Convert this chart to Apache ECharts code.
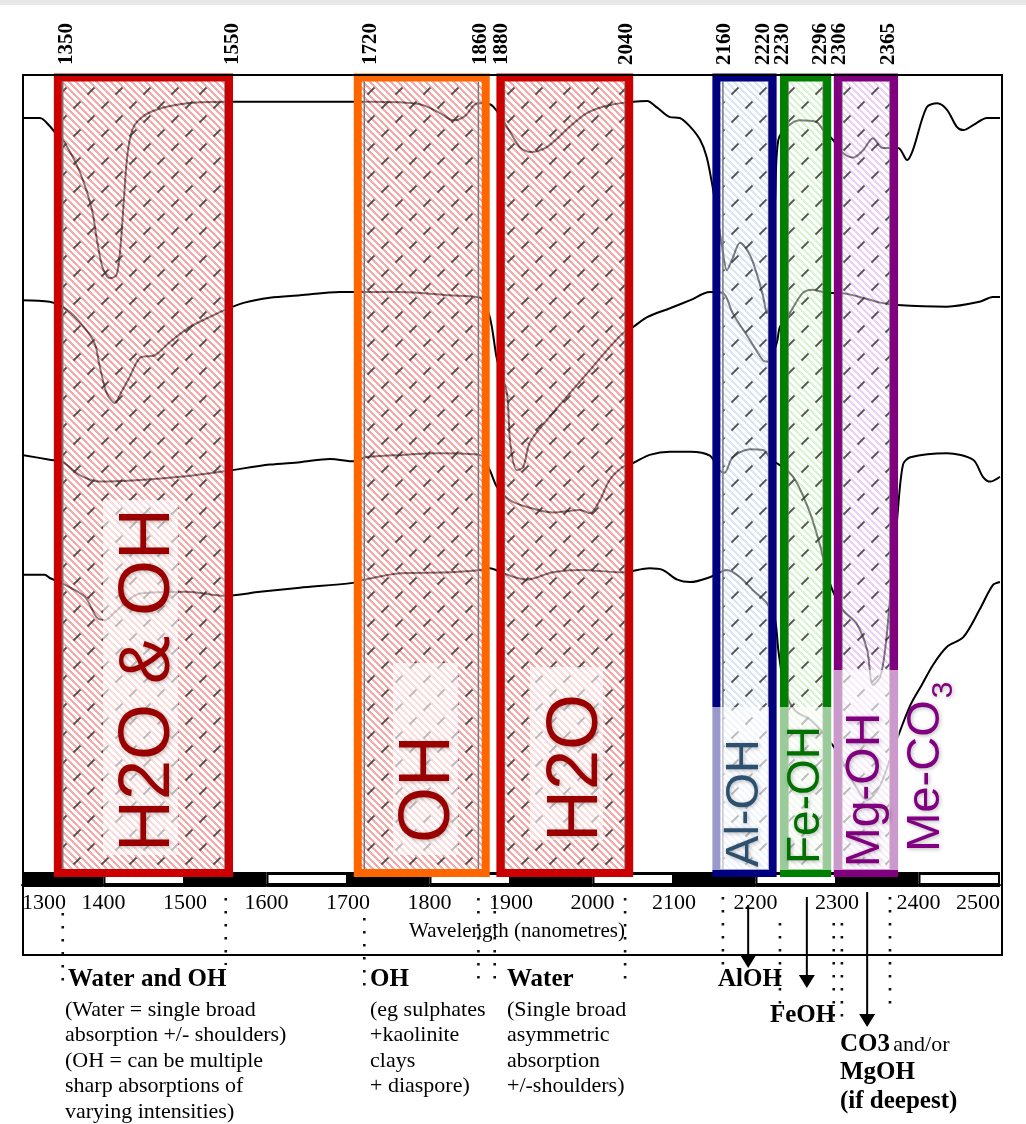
<!DOCTYPE html>
<html>
<head>
<meta charset="utf-8">
<title>SWIR absorption features</title>
<script src="https://cdn.jsdelivr.net/npm/echarts@6/dist/echarts.min.js"></script>
<style>
html,body{margin:0;padding:0;background:#fff;}
#main{width:1026px;height:1124px;}
</style>
</head>
<body>
<div id="main"></div>
<script>
// spectra, wavelength (nm) and relative reflectance (offset, arbitrary units)
var spec1Wl=[1300,1322,1334,1343,1352,1371,1386,1392,1399,1408,1416,1421,1425,1430,1438,1457,1494,1549,1641,1727,1788,1813,1829,1843,1859,1874,1886,1895,1911,1923,1944,1972,1993,2021,2050,2067,2079,2095,2107,2120,2132,2140,2147,2153,2159,2165,2172,2181,2193,2202,2209,2214,2219,2224,2228,2239,2254,2275,2283,2295,2307,2320,2332,2344,2356,2375,2386,2393,2410,2423,2435,2447,2455,2467,2484,2500];
var spec1Val=[94.7,94.7,93.7,92.6,91.7,88.0,83.3,79.6,76.2,74.9,75.3,79.0,84.6,90.7,93.8,95.4,96.4,96.7,96.7,96.7,96.4,95.3,94.4,94.9,96.5,96.4,95.1,93.6,91.1,90.5,91.1,93.6,95.3,96.3,96.7,96.8,96.0,94.8,94.7,93.6,92.0,89.9,86.4,82.7,78.8,75.9,77.4,79.3,77.8,75.3,72.8,70.6,73.5,84.6,92.0,93.6,94.4,94.2,93.2,92.0,90.4,89.8,90.7,92.2,91.0,91.0,89.5,90.7,96.0,96.5,95.7,93.6,93.2,93.8,94.7,94.7];

var spec2Wl=[1300,1334,1350,1371,1389,1395,1404,1414,1422,1432,1445,1463,1481,1506,1530,1549,1573,1604,1641,1690,1764,1825,1862,1874,1883,1895,1899,1907,1915,1923,1944,1972,1997,2021,2037,2050,2067,2095,2120,2144,2160,2172,2193,2209,2215,2226,2230,2242,2258,2270,2288,2304,2328,2353,2374,2435,2475,2491,2500];
var spec2Val=[72.2,72.0,71.4,69.5,66.9,64.2,60.7,59.5,60.9,62.7,65.1,65.4,67.0,68.9,70.1,71.0,71.9,72.5,72.8,73.2,73.2,72.8,72.5,70.1,64.8,60.7,54.6,51.2,51.6,54.6,57.4,60.7,63.6,66.4,68.1,68.9,70.1,71.2,72.2,73.2,73.1,70.6,67.3,64.8,64.6,66.9,68.9,70.6,73.1,73.5,73.1,73.1,72.6,71.9,71.6,71.4,72.0,72.6,72.6];

var spec3Wl=[1300,1334,1350,1371,1395,1445,1494,1549,1604,1641,1678,1708,1721,1764,1813,1862,1874,1883,1899,1919,1951,1985,1997,2009,2021,2037,2050,2070,2095,2120,2144,2156,2162,2172,2193,2209,2220,2239,2251,2267,2279,2291,2307,2324,2337,2344,2353,2359,2365,2374,2381,2390,2435,2467,2479,2488,2500];
var spec3Val=[53.1,52.5,52.2,50.6,49.8,50.0,50.4,51.1,51.9,52.2,52.6,52.3,52.8,53.1,53.3,53.1,51.2,49.1,47.5,46.7,46.0,46.3,45.9,47.5,50.0,51.6,52.1,53.1,53.5,53.5,53.0,51.2,50.9,52.8,53.8,53.7,52.5,51.2,49.6,45.9,42.0,37.3,34.0,32.3,29.0,24.7,25.7,29.0,35.2,45.4,51.9,52.8,53.3,52.5,50.4,49.8,50.4];

var spec4Wl=[1300,1328,1334,1350,1377,1392,1402,1414,1445,1502,1549,1592,1641,1706,1721,1764,1825,1862,1874,1890,1919,1951,1985,2037,2070,2086,2104,2120,2144,2165,2181,2197,2214,2224,2228,2236,2248,2267,2285,2303,2322,2337,2353,2371,2390,2404,2418,2435,2455,2475,2491,2500];
var spec4Val=[38.3,38.3,37.9,37.2,35.6,33.0,32.7,33.7,36.0,36.2,35.7,36.2,36.7,37.3,37.7,38.5,38.6,38.9,39.1,38.5,37.7,38.6,38.9,38.6,39.1,38.9,37.7,37.4,38.0,38.9,38.0,36.4,34.8,32.7,29.0,24.1,21.6,20.4,18.5,16.0,12.3,10.5,12.3,17.3,22.2,24.7,27.2,29.4,30.6,34.0,37.0,37.4];

// absorption bands (nm) and the highlight boxes drawn over them
var bandFrom=[1350,1720,1880,2160,2230,2306];
var bandTo=[1550,1860,2040,2220,2296,2365];
var boxFrom=[1344,1712,1887,2152,2235,2301];
var boxTo=[1554,1869,2045,2221,2288,2370];

// wavelengths written along the top edge
var topMarks=[1350,1550,1720,1860,1880,2040,2160,2220,2230,2296,2306,2365];
// dotted guide lines below the axis
var guideMarks=[1350,1550,1720,1860,1880,2040,2160,2230,2296,2306,2365];
// feature arrows (AlOH, FeOH, CO3/MgOH)
var arrowMarks=[2191,2263,2337];
// alternating scale bar edges
var barEdges=[1300,1400,1500,1600,1700,1800,1900,2000,2100,2200,2300,2400,2500];

// ---- styling ----
var boxColors=['#cc0000','#ff6600','#cc0000','#000080','#008000','#800080'];
var stripeRGBA=[[240,100,100,0.55],[240,100,100,0.55],[240,100,100,0.55],[190,212,240,0.55],[185,235,170,0.55],[225,170,240,0.55]];
var topNudge=[4,7,6,2,7,1,2,-8,3,-13,-2,-1];
var guideSpan=[[28,103],[13,80],[33,103],[13,103],[13,103],[13,103],[12,85],[38,122],[38,142],[38,142],[12,128]];
var arrowSpan=[[20,83],[12,103],[7,142]];

function pairs(a,b){
	var out=[];
	for(var i=0;i<a.length;i++){
		out.push([a[i],b[i]]);
	}
	return out;
}

// stripe pattern for the boxes
function makeStripes(c){
	var P=7;
	var cv=document.createElement('canvas');
	cv.width=P;cv.height=P;
	var ctx=cv.getContext('2d');
	var img=ctx.createImageData(P,P);
	for(var y=0;y<P;y++){
		for(var x=0;x<P;x++){
			var k=((x-y)%P+P)%P;
			var idx=(y*P+x)*4;
			if(k<3){
				img.data[idx]=c[0];img.data[idx+1]=c[1];img.data[idx+2]=c[2];img.data[idx+3]=Math.round(c[3]*255);
			}else{
				img.data[idx]=255;img.data[idx+1]=255;img.data[idx+2]=255;img.data[idx+3]=128;
			}
		}
	}
	ctx.putImageData(img,0,0);
	return {image:cv,repeat:'repeat'};
}

// the scanned "/" hatching
function makeDashes(){
	var S=28;
	var cv=document.createElement('canvas');
	cv.width=S;cv.height=S;
	var ctx=cv.getContext('2d');
	ctx.strokeStyle='rgba(45,45,45,1)';
	ctx.lineWidth=1.8;
	[[7,7],[21,21]].forEach(function(p){
		ctx.beginPath();
		ctx.moveTo(p[0]-3.5,p[1]+3.5);
		ctx.lineTo(p[0]+3.5,p[1]-3.5);
		ctx.stroke();
	});
	return {image:cv,repeat:'repeat'};
}

var stripePatterns=stripeRGBA.map(makeStripes);
var dashPattern=makeDashes();

function renderBox(params,api){
	var i=params.dataIndex;
	var cs=params.coordSys;
	var top=cs.y+2.5, bottom=cs.y+cs.height-12;
	var bx0=api.coord([api.value(0),0])[0];
	var bx1=api.coord([api.value(1),0])[0];
	var hx0=api.coord([api.value(2),0])[0];
	var hx1=api.coord([api.value(3),0])[0];
	var lo=Math.max(hx0,bx0+4), hi=Math.min(hx1,bx1-4);
	return {type:'group',children:[
		{type:'rect',shape:{x:bx0,y:top,width:bx1-bx0,height:bottom-top},style:{fill:stripePatterns[i]}},
		{type:'rect',shape:{x:lo,y:top+4,width:hi-lo,height:bottom-top-8},style:{fill:dashPattern,opacity:0.8}},
		{type:'line',shape:{x1:lo,y1:top+4,x2:lo,y2:bottom-4},style:{stroke:'#777',lineWidth:1.5}},
		{type:'line',shape:{x1:hi,y1:top+4,x2:hi,y2:bottom-4},style:{stroke:'#777',lineWidth:1.5}},
		{type:'rect',shape:{x:bx0,y:top,width:bx1-bx0,height:bottom-top},style:{fill:'none',stroke:boxColors[i],lineWidth:8}}
	]};
}

function renderBar(params,api){
	var cs=params.coordSys;
	var x0=api.coord([api.value(0),0])[0];
	var x1=api.coord([api.value(1),0])[0];
	var yb=cs.y+cs.height;
	var kids=[{type:'rect',shape:{x:x0,y:yb-13,width:x1-x0,height:15},style:{fill:'#000'}}];
	if(params.dataIndex%2===1){
		kids.push({type:'rect',shape:{x:x0+2,y:yb-10,width:x1-x0-4,height:8},style:{fill:'#fff'}});
	}
	return {type:'group',children:kids};
}

function renderTop(params,api){
	var cs=params.coordSys;
	var v=api.value(0);
	var x=api.coord([v,0])[0]+topNudge[params.dataIndex];
	return {type:'text',x:x,y:cs.y-10,rotation:Math.PI/2,
		style:{text:String(v),font:'bold 21px "Liberation Serif"',fill:'#000',align:'left',verticalAlign:'middle'}};
}

function renderGuide(params,api){
	var cs=params.coordSys;
	var x=api.coord([api.value(0),0])[0];
	var yb=cs.y+cs.height;
	var sp=guideSpan[params.dataIndex];
	return {type:'line',shape:{x1:x,y1:yb+sp[0],x2:x,y2:yb+sp[1]},
		style:{stroke:'#111',lineWidth:2.6,lineDash:[2.6,10.4]}};
}

function renderArrow(params,api){
	var cs=params.coordSys;
	var x=api.coord([api.value(0),0])[0];
	var yb=cs.y+cs.height;
	var sp=arrowSpan[params.dataIndex];
	var y0=yb+sp[0], y1=yb+sp[1];
	return {type:'group',children:[
		{type:'line',shape:{x1:x,y1:y0,x2:x,y2:y1-10},style:{stroke:'#000',lineWidth:2}},
		{type:'polygon',shape:{points:[[x-8,y1-13],[x+8,y1-13],[x,y1]]},style:{fill:'#000'}}
	]};
}

var lineStyleBase={color:'#000',width:2};
function specSeries(name,wl,val){
	return {name:name,type:'line',data:pairs(wl,val),showSymbol:false,symbol:'none',smooth:0.3,
		lineStyle:lineStyleBase,z:2,silent:true};
}

var boxData=[];
for(var i=0;i<bandFrom.length;i++){
	boxData.push([boxFrom[i],boxTo[i],bandFrom[i],bandTo[i],50]);
}
var barData=[];
for(var j=0;j<barEdges.length-1;j++){
	barData.push([barEdges[j],barEdges[j+1],0]);
}

var serif='"Liberation Serif"';
var sans='"Liberation Sans"';
var shadow={textShadowColor:'rgba(0,0,0,0.3)',textShadowBlur:4,textShadowOffsetX:1,textShadowOffsetY:1};

function bigLabel(txt,x,y,size,color){
	return {type:'text',x:x,y:y,rotation:Math.PI/2,z:11,
		style:Object.assign({text:txt,font:size+'px '+sans,fill:color,align:'center',verticalAlign:'middle'},shadow)};
}
function labelBg(x,y,w,h){
	return {type:'rect',z:10,shape:{x:x,y:y,width:w,height:h},style:{fill:'rgba(255,255,255,0.6)'}};
}
function note(txt,x,y,bold){
	return {type:'text',x:x,y:y,z:11,style:{text:txt,font:(bold?'bold 25px ':'22px ')+serif,fill:'#000',
		align:'left',verticalAlign:bold?'middle':'top',lineHeight:25.5}};
}

var option={
	animation:false,
	backgroundColor:'#fff',
	grid:{left:22,right:26,top:75,bottom:239},
	xAxis:{
		type:'value',min:1300,max:2500,interval:100,
		axisLine:{show:true,lineStyle:{color:'#000',width:2}},
		axisTick:{show:false},
		splitLine:{show:false},
		axisLabel:{color:'#000',fontFamily:'Liberation Serif',fontSize:22,margin:7,alignMinLabel:'left',alignMaxLabel:'right',
			formatter:function(v){return String(v);}},
		name:'Wavelength (nanometres)',nameLocation:'middle',nameGap:36,
		nameTextStyle:{color:'#000',fontFamily:'Liberation Serif',fontSize:21,padding:[0,0,0,12]}
	},
	yAxis:{type:'value',min:0,max:100,show:false},
	series:[
		specSeries('s1',spec1Wl,spec1Val),
		specSeries('s2',spec2Wl,spec2Val),
		specSeries('s3',spec3Wl,spec3Val),
		specSeries('s4',spec4Wl,spec4Val),
		{type:'custom',renderItem:renderBar,data:barData,encode:{x:[0,1],y:2},clip:false,z:3,silent:true},
		{type:'custom',renderItem:renderBox,data:boxData,encode:{x:[0,1,2,3],y:4},clip:false,z:4,silent:true},
		{type:'custom',renderItem:renderTop,data:topMarks.map(function(v){return [v,0];}),encode:{x:0,y:1},clip:false,z:4,silent:true},
		{type:'custom',renderItem:renderGuide,data:guideMarks.map(function(v){return [v,0];}),encode:{x:0,y:1},clip:false,z:4,silent:true},
		{type:'custom',renderItem:renderArrow,data:arrowMarks.map(function(v){return [v,0];}),encode:{x:0,y:1},clip:false,z:4,silent:true}
	],
	graphic:{elements:[
		{type:'rect',z:1,shape:{x:0,y:0,width:1026,height:5},style:{fill:'#e8e8e8'}},
		{type:'rect',z:12,shape:{x:23,y:75,width:979,height:880},style:{fill:'none',stroke:'#000',lineWidth:2}},
		labelBg(103,500,75,355),
		labelBg(393,663,65,192),
		labelBg(530,667,73,173),
		labelBg(712,707,57,163),
		labelBg(780,707,52,163),
		labelBg(834,670,65,200),
		bigLabel('H2O & OH',149,680,72,'#9b0000'),
		bigLabel('OH',429,789,72,'#9b0000'),
		bigLabel('H2O',577,768,72,'#9b0000'),
		bigLabel('Al-OH',745,803,47,'#2c5070'),
		bigLabel('Fe-OH',806,795,46,'#007000'),
		bigLabel('Mg-OH',866,790,48,'#800080'),
		bigLabel('Me-CO',926,776,47,'#800080'),
		bigLabel('3',944,690,30,'#800080'),
		note('Water and OH',68,980,true),
		note('(Water = single broad\nabsorption +/- shoulders)\n(OH = can be multiple\nsharp absorptions of\nvarying intensities)',65,997,false),
		note('OH',370,980,true),
		note('(eg sulphates\n+kaolinite\nclays\n+ diaspore)',370,997,false),
		note('Water',507,980,true),
		note('(Single broad\nasymmetric\nabsorption\n+/-shoulders)',507,997,false),
		note('AlOH',718,980,true),
		note('FeOH',770,1016,true),
		{type:'text',x:840,y:1045,z:11,style:{text:'{b|CO3} {r|and/or}',align:'left',verticalAlign:'middle',
			rich:{b:{font:'bold 25px '+serif,fill:'#000'},r:{font:'22px '+serif,fill:'#000'}}}},
		note('MgOH',840,1073,true),
		note('(if deepest)',840,1102,true)
	]}
};

var myChart=echarts.init(document.getElementById('main'));
myChart.setOption(option);
</script>
</body>
</html>
